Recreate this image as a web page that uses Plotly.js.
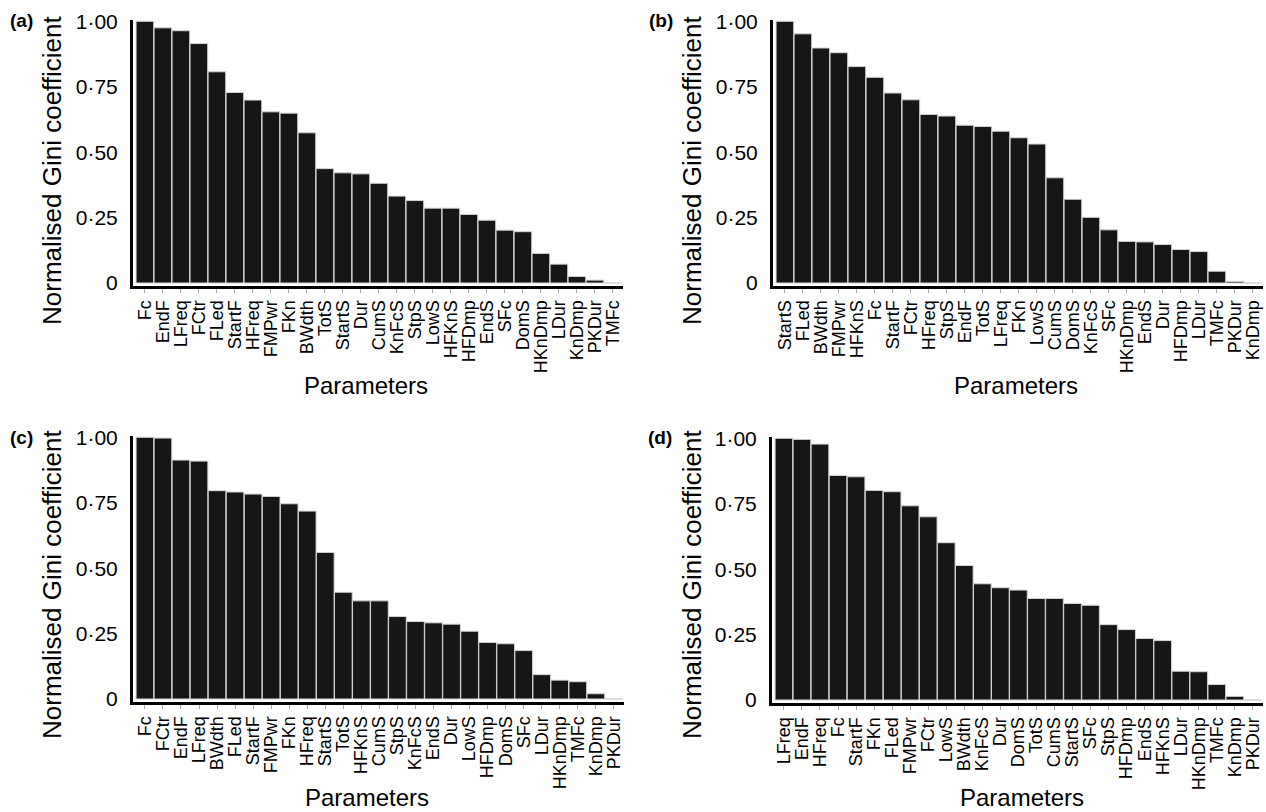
<!DOCTYPE html>
<html>
<head>
<meta charset="utf-8">
<script src="https://cdn.plot.ly/plotly-3.0.1.min.js"></script>
<style>html,body{margin:0;padding:0;background:#fff;}#chart{width:1266px;height:812px;}</style>
</head>
<body>
<div id="chart"></div>
<script>
// Panel (a)
const catsA = ["Fc","EndF","LFreq","FCtr","FLed","StartF","HFreq","FMPwr","FKn","BWdth","TotS","StartS","Dur","CumS","KnFcS","StpS","LowS","HFKnS","HFDmp","EndS","SFc","DomS","HKnDmp","LDur","KnDmp","PKDur","TMFc"];
const valsA = [1.000,0.975,0.964,0.915,0.807,0.728,0.699,0.654,0.649,0.574,0.437,0.421,0.417,0.381,0.332,0.315,0.286,0.286,0.262,0.240,0.202,0.196,0.113,0.072,0.025,0.011,0.000];
// Panel (b)
const catsB = ["StartS","FLed","BWdth","FMPwr","HFKnS","Fc","StartF","FCtr","HFreq","StpS","EndF","TotS","LFreq","FKn","LowS","CumS","DomS","KnFcS","SFc","HKnDmp","EndS","Dur","HFDmp","LDur","TMFc","PKDur","KnDmp"];
const valsB = [1.000,0.952,0.898,0.880,0.827,0.786,0.726,0.700,0.644,0.638,0.603,0.598,0.580,0.555,0.531,0.402,0.320,0.251,0.203,0.159,0.157,0.147,0.128,0.120,0.045,0.006,0.000];
// Panel (c)
const catsC = ["Fc","FCtr","EndF","LFreq","BWdth","FLed","StartF","FMPwr","FKn","HFreq","StartS","TotS","HFKnS","CumS","StpS","KnFcS","EndS","Dur","LowS","HFDmp","DomS","SFc","LDur","HKnDmp","TMFc","KnDmp","PKDur"];
const valsC = [1.000,0.997,0.913,0.909,0.796,0.791,0.783,0.774,0.746,0.718,0.560,0.408,0.375,0.375,0.315,0.296,0.291,0.286,0.259,0.216,0.211,0.185,0.093,0.072,0.066,0.020,0.000];
// Panel (d)
const catsD = ["LFreq","EndF","HFreq","Fc","StartF","FKn","FLed","FMPwr","FCtr","LowS","BWdth","KnFcS","Dur","DomS","TotS","CumS","StartS","SFc","StpS","HFDmp","EndS","HFKnS","LDur","HKnDmp","TMFc","KnDmp","PKDur"];
const valsD = [1.000,0.996,0.978,0.858,0.853,0.801,0.796,0.742,0.700,0.601,0.514,0.444,0.429,0.420,0.388,0.388,0.369,0.362,0.288,0.269,0.235,0.227,0.110,0.108,0.059,0.014,0.000];

const yTickVals = [0, 0.25, 0.5, 0.75, 1.0];
const yTickText = ["0", "0·25", "0·50", "0·75", "1·00"];
const panelLabels = ["(a)", "(b)", "(c)", "(d)"];
const yTitle = "Normalised Gini coefficient";
const xTitle = "Parameters";

const FONT = "Liberation Sans, Arial, Helvetica, sans-serif";
const W = 1266, H = 812;
const px = v => v / W;
const py = v => 1 - v / H;

const barStyle = {color: "#161616", line: {color: "#d4d4d4", width: 1}};
function trace(cats, vals, xa, ya) {
  return {type: "bar", x: cats, y: vals, xaxis: xa, yaxis: ya, marker: barStyle, hoverinfo: "x+y", showlegend: false};
}
const data = [
  trace(catsA, valsA, "x", "y"),
  trace(catsB, valsB, "x2", "y2"),
  trace(catsC, valsC, "x3", "y3"),
  trace(catsD, valsD, "x4", "y4")
];

function xaxis(d0, d1, anchor, cats) {
  return {
    domain: [px(d0), px(d1)], anchor: anchor, type: "category",
    categoryorder: "array", categoryarray: cats,
    tickmode: "array", tickvals: cats, ticktext: cats,
    range: [-0.66, 26.56], showline: true, linecolor: "#000", linewidth: 3,
    ticks: "outside", ticklen: 4, tickwidth: 1, tickcolor: "#aaaaaa",
    tickangle: -90, tickfont: {family: FONT, size: 18, color: "#000"},
    showgrid: false, zeroline: false, fixedrange: true
  };
}
function yaxis(top, bottom, anchor) {
  return {
    domain: [py(bottom), py(top)], anchor: anchor,
    range: [-0.0115, 1.005], showline: true, linecolor: "#000", linewidth: 3,
    tickvals: yTickVals, ticktext: yTickText, ticks: "", ticklabelstandoff: 8,
    tickfont: {family: FONT, size: 21, color: "#000"},
    showgrid: false, zeroline: false, fixedrange: true
  };
}

function ann(text, x, y, size, opts) {
  return Object.assign({text: text, xref: "paper", yref: "paper", x: px(x), y: py(y),
    xanchor: "center", yanchor: "middle", showarrow: false, borderpad: 0,
    font: {family: FONT, size: size, color: "#000"}}, opts || {});
}

const annotations = [
  ann("<b>" + panelLabels[0] + "</b>", 21, 21, 19),
  ann("<b>" + panelLabels[1] + "</b>", 661, 21, 19),
  ann("<b>" + panelLabels[2] + "</b>", 21, 437, 19),
  ann("<b>" + panelLabels[3] + "</b>", 660, 437, 19),
  ann(yTitle, 52, 170, 26, {textangle: -90}),
  ann(yTitle, 692, 170, 26, {textangle: -90}),
  ann(yTitle, 52, 584, 26, {textangle: -90}),
  ann(yTitle, 692, 584, 26, {textangle: -90}),
  ann(xTitle, 366, 385, 24),
  ann(xTitle, 1016, 385, 24),
  ann(xTitle, 367, 797, 24),
  ann(xTitle, 1022, 797, 24)
];

const layout = {
  width: W, height: H,
  margin: {l: 0, r: 0, t: 0, b: 0},
  paper_bgcolor: "#fff", plot_bgcolor: "#fff",
  font: {family: FONT, color: "#000"},
  bargap: 0.02,
  showlegend: false,
  xaxis: xaxis(133, 623, "y", catsA),
  yaxis: yaxis(20, 286, "x"),
  xaxis2: xaxis(773, 1263, "y2", catsB),
  yaxis2: yaxis(20, 286, "x2"),
  xaxis3: xaxis(133, 624, "y3", catsC),
  yaxis3: yaxis(436, 702, "x3"),
  xaxis4: xaxis(772, 1263, "y4", catsD),
  yaxis4: yaxis(437, 703, "x4"),
  annotations: annotations
};

Plotly.newPlot("chart", data, layout, {displayModeBar: false, staticPlot: true});
</script>
</body>
</html>
